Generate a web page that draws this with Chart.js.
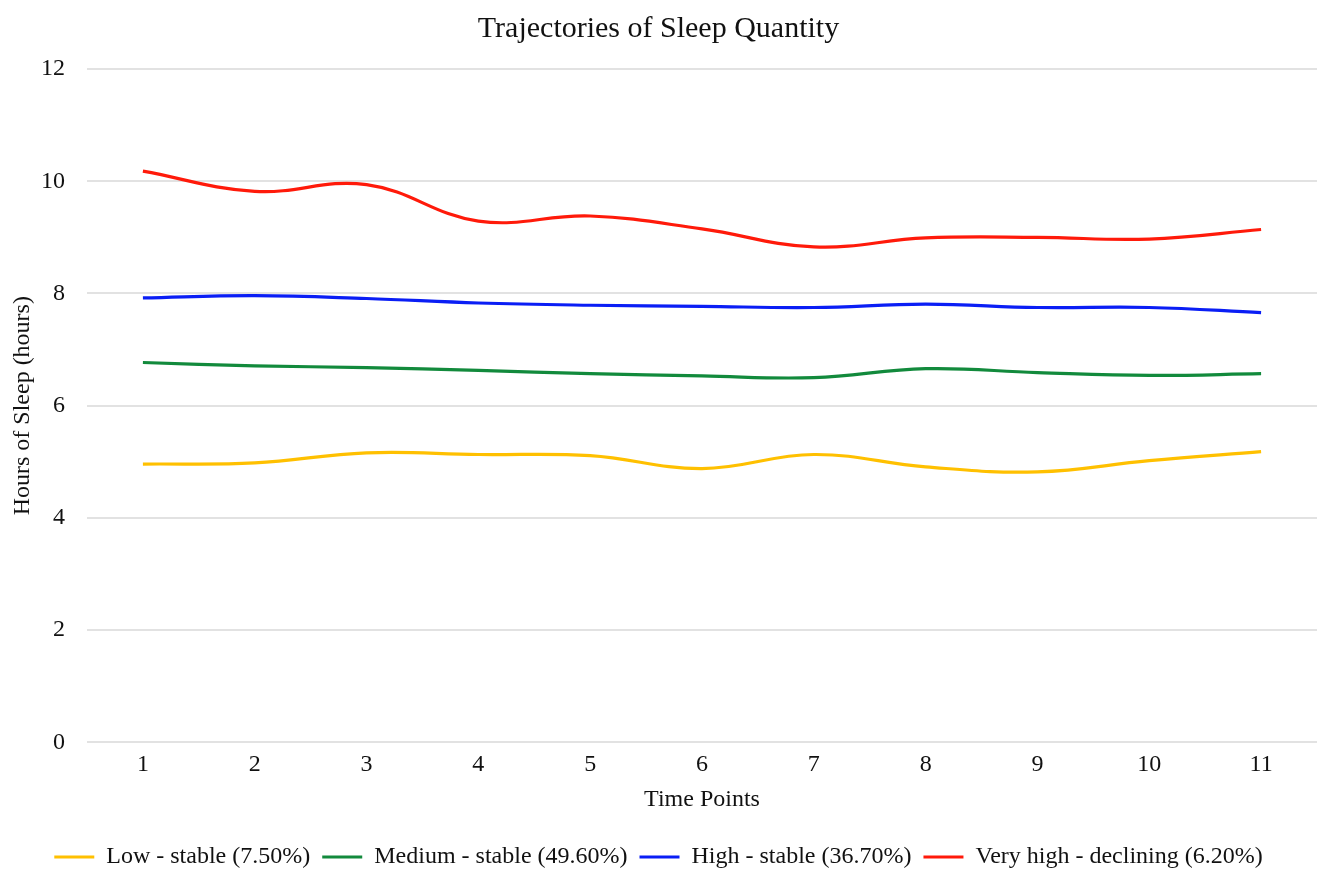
<!DOCTYPE html>
<html>
<head>
<meta charset="utf-8">
<script src="https://cdn.jsdelivr.net/npm/chart.js@4.4.1/dist/chart.umd.min.js"></script>
<style>
  html, body { margin: 0; padding: 0; background: #fff; }
  #wrap { width: 1321px; height: 869px; }
</style>
</head>
<body>
<div id="wrap"><canvas id="sleepChart"></canvas></div>
<script>
// data
const timePoints = ["1", "2", "3", "4", "5", "6", "7", "8", "9", "10", "11"];
const lowStable = [4.96, 4.98, 5.16, 5.13, 5.11, 4.88, 5.13, 4.91, 4.82, 5.02, 5.18];
const mediumStable = [6.77, 6.71, 6.68, 6.63, 6.57, 6.53, 6.50, 6.66, 6.59, 6.54, 6.57];
const highStable = [7.92, 7.96, 7.91, 7.83, 7.79, 7.77, 7.75, 7.81, 7.75, 7.75, 7.66];
const veryHighDeclining = [10.18, 9.82, 9.94, 9.29, 9.38, 9.15, 8.83, 8.99, 9.0, 8.97, 9.14];
const yTicks = [0, 2, 4, 6, 8, 10, 12];

const serif = "'Liberation Serif', 'Times New Roman', serif";
Chart.defaults.font.family = serif;
Chart.defaults.color = "#111";

function series(label, data, color) {
  return {
    label: label,
    data: data,
    borderColor: color,
    backgroundColor: color,
    borderWidth: 3.2,
    pointRadius: 0,
    pointStyle: "line",
    tension: 0.4,
    fill: false
  };
}

new Chart(document.getElementById("sleepChart"), {
  type: "line",
  data: {
    labels: timePoints,
    datasets: [
      series("Low - stable (7.50%)", lowStable, "#ffc000"),
      series("Medium - stable (49.60%)", mediumStable, "#128a3c"),
      series("High - stable (36.70%)", highStable, "#0a1ef5"),
      series("Very high - declining (6.20%)", veryHighDeclining, "#ff1a0a")
    ]
  },
  options: {
    responsive: true,
    maintainAspectRatio: false,
    animation: false,
    layout: { padding: { left: 0, right: 4, top: 0, bottom: -10 } },
    plugins: {
      title: {
        display: true,
        text: "Trajectories of Sleep Quantity",
        font: { size: 30, weight: "normal" },
        color: "#111",
        padding: { top: 11, bottom: 22 }
      },
      legend: {
        position: "bottom",
        labels: {
          usePointStyle: true,
          pointStyleWidth: 40,
          boxHeight: 14,
          boxWidth: 34,
          padding: 12,
          font: { size: 24 },
          color: "#111"
        }
      },
      tooltip: { enabled: false }
    },
    scales: {
      x: {
        offset: true,
        grid: { display: false },
        border: { display: false },
        ticks: { font: { size: 24 }, color: "#111", padding: 0 },
        title: {
          display: true,
          text: "Time Points",
          font: { size: 24 },
          color: "#111",
          padding: { top: 6, bottom: 19 }
        }
      },
      y: {
        min: 0,
        max: 12,
        afterBuildTicks: (axis) => { axis.ticks = yTicks.map((v) => ({ value: v })); },
        afterFit: (axis) => { axis.width = 87; },
        grid: { color: "#e2e2e2", lineWidth: 2, drawTicks: false },
        border: { display: false },
        ticks: { font: { size: 24 }, color: "#111", padding: 22 },
        title: {
          display: true,
          text: "Hours of Sleep (hours)",
          font: { size: 24 },
          color: "#111",
          padding: { top: 8, bottom: 0 }
        }
      }
    }
  }
});
</script>
</body>
</html>
